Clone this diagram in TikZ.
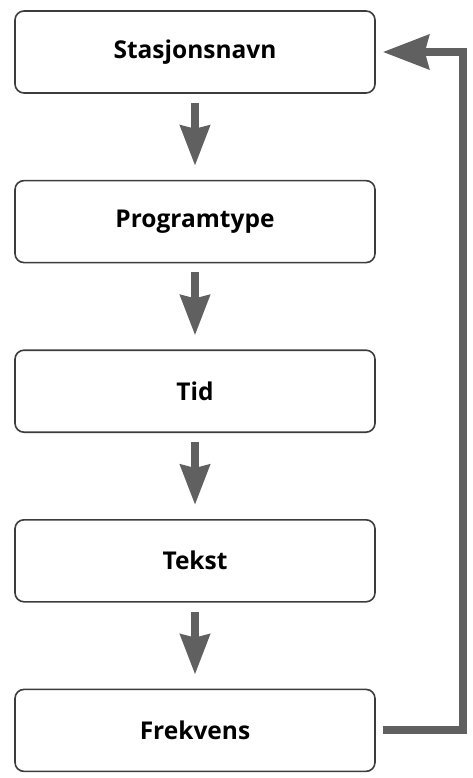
\documentclass[tikz,border=0pt]{standalone}
\usepackage{fontspec}
\setmainfont{Open Sans}
\usetikzlibrary{positioning,arrows.meta}
\definecolor{boxline}{HTML}{3C3C3C}
\definecolor{arrowgray}{HTML}{606060}
\tikzset{main node/.style={rectangle,rounded corners=9pt,draw=boxline,line width=1.6pt,fill=white,minimum width=360pt,minimum height=82pt,inner sep=0pt,font=\fontsize{24.5}{28}\selectfont\bfseries},
	step arrow/.style={color=arrowgray,line width=8pt,-{Stealth[width=29pt,length=40pt,inset=3pt]},shorten <=9pt,shorten >=14pt},
	back arrow/.style={color=arrowgray,line width=8pt,line join=miter,-{Stealth[width=34pt,length=46pt,inset=4pt]}},
}

\begin{document}
\begin{tikzpicture}
				\useasboundingbox (0,0) rectangle (473pt,-778pt);
				\node[main node] (S) at (195pt,-52pt) {Stasjonsnavn};
				\node[main node] (P) [below =86pt of S] {Programtype};
				\node[main node] (T) [below = 86pt of P] {Tid};
				\node[main node] (K) [below = 86pt of T] {Tekst};
				\node[main node] (F) [below = 86pt of K] {Frekvens};
				
				\draw[step arrow] (S) -- (P);
				\draw[step arrow] (P) -- (T);
				\draw[step arrow] (T) -- (K);
				\draw[step arrow] (K) -- (F);
				
				\draw[back arrow] ([xshift=7pt]F.east) -- ++(80pt,0) |- ([xshift=7pt]S.east);
				
			\end{tikzpicture}
\end{document}
